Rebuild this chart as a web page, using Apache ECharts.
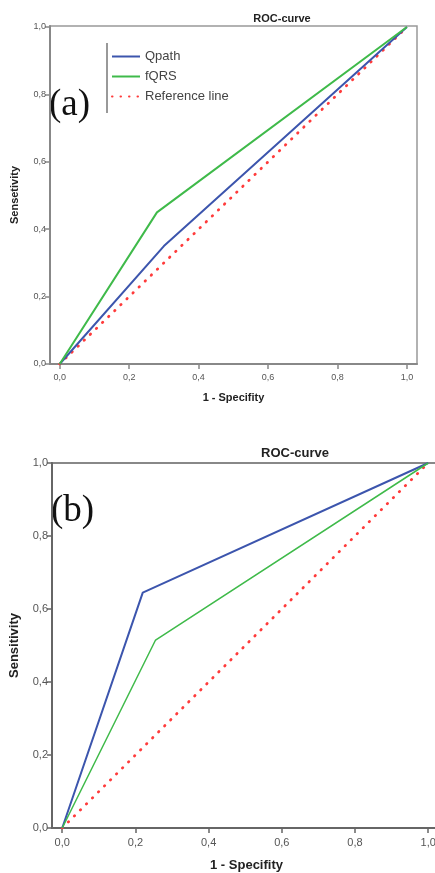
<!DOCTYPE html>
<html>
<head>
<meta charset="utf-8">
<script src="https://cdn.jsdelivr.net/npm/echarts@6/dist/echarts.min.js"></script>
<style>
html,body{margin:0;padding:0;background:#fff;}
#chart{width:435px;height:873px;}
</style>
</head>
<body>
<div id="chart"></div>
<script>
// ---- data ----
const tickValues = [0, 0.2, 0.4, 0.6, 0.8, 1.0];
// panel (a)
const qpathA_x = [0, 0.30, 1];
const qpathA_y = [0, 0.35, 1];
const fqrsA_x  = [0, 0.28, 1];
const fqrsA_y  = [0, 0.45, 1];
// panel (b)
const qpathB_x = [0, 0.22, 1];
const qpathB_y = [0, 0.645, 1];
const fqrsB_x  = [0, 0.255, 1];
const fqrsB_y  = [0, 0.515, 1];
// reference diagonal
const ref_x = [0, 1];
const ref_y = [0, 1];
const seriesNames = ['Qpath', 'fQRS', 'Reference line'];

const zip = (xs, ys) => xs.map((x, i) => [x, ys[i]]);
const fmt = v => v.toFixed(1).replace('.', ',');

const BLUE = '#3c55ad', GREEN = '#3fba4a', RED = '#ff3b3b';

function xAx(gi, labelSize, lineColor, max) {
  return {
    gridIndex: gi, type: 'value', min: -0.028, max: max,
    name: '1 - Specifity', nameLocation: 'middle', nameGap: gi === 0 ? 28 : 31,
    nameTextStyle: {fontFamily: 'Liberation Sans', fontWeight: 'bold', fontSize: gi === 0 ? 11 : 13, color: '#222'},
    axisLine: {show: true, onZero: false, lineStyle: {color: lineColor, width: 2}},
    axisTick: {show: true, length: 5, customValues: tickValues, lineStyle: {color: lineColor, width: 1.5}},
    axisLabel: {customValues: tickValues, formatter: fmt, fontFamily: 'Liberation Sans', fontSize: labelSize, color: '#555', margin: 9},
    splitLine: {show: false}
  };
}
function yAx(gi, name, labelSize, lineColor, max) {
  return {
    gridIndex: gi, type: 'value', min: 0, max: max,
    name: name, nameLocation: 'middle', nameGap: gi === 0 ? 30 : 31,
    nameTextStyle: {fontFamily: 'Liberation Sans', fontWeight: 'bold', fontSize: gi === 0 ? 11 : 13, color: '#222'},
    axisLine: {show: true, onZero: false, lineStyle: {color: lineColor, width: 2}},
    axisTick: {show: true, length: 5, customValues: tickValues, lineStyle: {color: lineColor, width: 1.5}},
    axisLabel: {customValues: tickValues, formatter: fmt, fontFamily: 'Liberation Sans', fontSize: labelSize, color: '#555', margin: 4},
    splitLine: {show: false}
  };
}
function line(name, xi, xs, ys, color, width, dotted) {
  return {
    name: name, type: 'line', xAxisIndex: xi, yAxisIndex: xi,
    data: zip(xs, ys), showSymbol: false, symbol: 'none', silent: true,
    color: color,
    itemStyle: {color: color},
    lineStyle: dotted ? {color: color, width: 2.8, type: [0.5, 8], cap: 'round'} : {color: color, width: width},
    z: dotted ? 1 : 2
  };
}

const chart = echarts.init(document.getElementById('chart'));
chart.setOption({
  animation: false,
  backgroundColor: '#fff',
  title: [
    {text: 'ROC-curve', left: 277, top: 8, textAlign: 'center',
     textStyle: {fontFamily: 'Liberation Sans', fontSize: 11, fontWeight: 'bold', color: '#222'}},
    {text: 'ROC-curve', left: 290, top: 442, textAlign: 'center',
     textStyle: {fontFamily: 'Liberation Sans', fontSize: 13, fontWeight: 'bold', color: '#222'}}
  ],
  legend: {
    data: seriesNames, orient: 'vertical', left: 111, top: 50, padding: 0,
    itemWidth: 28, itemHeight: 13, itemGap: 7, selectedMode: false,
    itemStyle: {opacity: 0},
    textStyle: {fontFamily: 'Liberation Sans', fontSize: 13, color: '#444'}
  },
  grid: [
    {left: 50, right: 18, top: 26, bottom: 509, show: true, borderColor: '#999', borderWidth: 1.5, outerBoundsMode: 'none'},
    {left: 52, right: -6, top: 463, bottom: 45, show: true, borderColor: '#888', borderWidth: 2, outerBoundsMode: 'none'}
  ],
  xAxis: [xAx(0, 9, '#888', 1.029), xAx(1, 11, '#666', 1.035)],
  yAxis: [yAx(0, 'Sensetivity', 9, '#888', 1.003), yAx(1, 'Sensitivity', 11, '#666', 1.0)],
  graphic: [
    {type: 'line', shape: {x1: 107, y1: 43, x2: 107, y2: 113}, style: {stroke: '#777', lineWidth: 1.5}},
    {type: 'text', left: 49, top: 87, style: {text: '(a)', fontFamily: 'Liberation Serif', fontSize: 37, fill: '#111'}},
    {type: 'text', left: 51, top: 493, style: {text: '(b)', fontFamily: 'Liberation Serif', fontSize: 37, fill: '#111'}}
  ],
  series: [
    line('Reference line', 0, ref_x, ref_y, RED, 2.5, true),
    line('Qpath', 0, qpathA_x, qpathA_y, BLUE, 2, false),
    line('fQRS', 0, fqrsA_x, fqrsA_y, GREEN, 2, false),
    line('Reference line', 1, ref_x, ref_y, RED, 2.5, true),
    line('Qpath', 1, qpathB_x, qpathB_y, BLUE, 2, false),
    line('fQRS', 1, fqrsB_x, fqrsB_y, GREEN, 1.5, false)
  ]
});
</script>
</body>
</html>
